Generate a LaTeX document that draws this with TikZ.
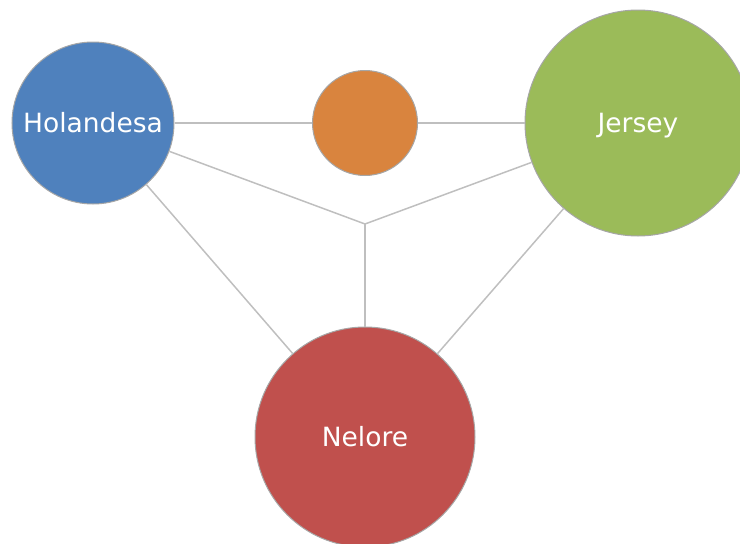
\documentclass[tikz,border=0pt]{standalone}
\usepackage{fontspec}
\setmainfont{DejaVu Sans}
\definecolor{cblue}{HTML}{4F81BD}
\definecolor{corange}{HTML}{D9843E}
\definecolor{cgreen}{HTML}{9BBB59}
\definecolor{cred}{HTML}{C0504D}
\definecolor{cedge}{HTML}{A6A6A6}
\definecolor{cline}{HTML}{BFBFBF}
\begin{document}
\begin{tikzpicture}[x=1pt,y=-1pt,
  ball/.style={circle,draw=cedge,line width=1pt,inner sep=0pt,text=white,
    font=\fontsize{26.5}{30}\selectfont,text height=19.3pt,text depth=0pt},
  link/.style={draw=cline,line width=1.5pt}]
\useasboundingbox (0,0) rectangle (740,544);
\begin{scope}
\clip (0,0) rectangle (740,544);
\node[ball,fill=cblue,minimum size=162pt] (h) at (93,123) {Holandesa};
\node[ball,fill=corange,minimum size=105pt] (o) at (365,123) {};
\node[ball,fill=cgreen,minimum size=226pt] (jy) at (638,123) {Jersey};
\node[ball,fill=cred,minimum size=220pt] (n) at (365,437) {Nelore};
\coordinate (j) at (365,224);
\draw[link] (h) -- (j);
\draw[link] (jy) -- (j);
\draw[link] (j) -- (n);
\draw[link] (h) -- (o);
\draw[link] (o) -- (jy);
\draw[link] (h) -- (n);
\draw[link] (jy) -- (n);
\end{scope}
\end{tikzpicture}
\end{document}
